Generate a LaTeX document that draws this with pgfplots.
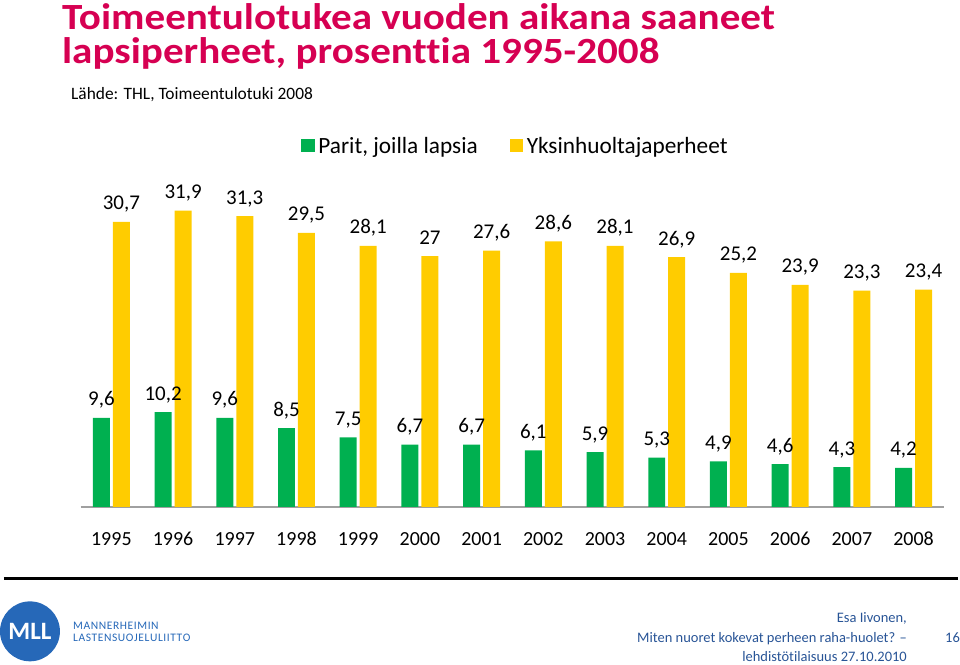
\documentclass[border=0pt]{standalone}
\usepackage{fontspec}
\setmainfont{Carlito}[Ligatures=NoCommon]
\usepackage{pgfplots}
\pgfplotsset{compat=1.18}
\definecolor{titlered}{RGB}{214,0,82}
\definecolor{bargreen}{RGB}{0,176,80}
\definecolor{baryellow}{RGB}{255,204,0}
\definecolor{footblue}{RGB}{40,84,150}
\definecolor{logoblue}{RGB}{38,104,184}
\definecolor{axisgray}{RGB}{160,160,160}

\pgfplotstableread{
x green yellow
0 9.6 30.7
1 10.2 31.9
2 9.6 31.3
3 8.5 29.5
4 7.5 28.1
5 6.7 27
6 6.7 27.6
7 6.1 28.6
8 5.9 28.1
9 5.3 26.9
10 4.9 25.2
11 4.6 23.9
12 4.3 23.3
13 4.2 23.4
}\datatable

\newcommand{\lsp}{\kern0.6pt}

\begin{document}
\begin{tikzpicture}[x=1pt,y=1pt]
\path (0,0) rectangle (960,665);
% title
\node[anchor=base west, inner sep=0, text=titlered, font=\fontsize{37pt}{37pt}\selectfont\bfseries] at (61,635.5) {\scalebox{1.112}[1]{Toimeentulotukea vuoden aikana saaneet}};
\node[anchor=base west, inner sep=0, text=titlered, font=\fontsize{37pt}{37pt}\selectfont\bfseries] at (61,601.5) {\scalebox{1.112}[1]{lapsiperheet, prosenttia 1995-2008}};
\node[anchor=base west, inner sep=0, font=\fontsize{17.4pt}{17.4pt}\selectfont] at (70,565) {Lähde: THL, Toimeentulotuki 2008};

\begin{axis}[
  at={(79.6pt,157.5pt)}, anchor=south west,
  scale only axis, width=864.8pt, height=372pt,
  xmin=-0.5, xmax=13.5, ymin=0, ymax=40,
  ybar=3pt, bar width=17pt,
  axis y line=none,
  axis x line*=bottom,
  axis line style={draw=axisgray, line width=1.5pt},
  xtick={0,...,13},
  xticklabels={1995,1996,1997,1998,1999,2000,2001,2002,2003,2004,2005,2006,2007,2008},
  major tick length=0pt,
  xticklabel style={anchor=base, yshift=-39pt, font=\fontsize{20pt}{20pt}\selectfont},
  nodes near coords,
  every node near coord/.append style={font=\fontsize{21pt}{21pt}\selectfont, anchor=base, yshift=12pt, inner sep=0pt},
  legend columns=2,
  legend style={draw=none, fill=none, at={(0.5035,0.972)}, anchor=center,
    font=\fontsize{23.3pt}{23.3pt}\selectfont,
    /tikz/every even column/.append style={column sep=30pt}},
  legend image code/.code={\fill[#1] (0pt,-6.5pt) rectangle (13.5pt,6.5pt); \path (15pt,0pt);},
  /pgf/number format/use comma,
  /pgf/number format/fixed,
  /pgf/number format/precision=1,
  /pgf/number format/assume math mode=true,
]
\addplot[fill=bargreen, draw=none] table[x=x, y=green] {\datatable};
\addplot[fill=baryellow, draw=none] table[x=x, y=yellow] {\datatable};
\legend{{Parit, joilla lapsia}, {Yksinhuoltajaperheet}}
\end{axis}

% footer
\draw[black, line width=2.5pt] (3,86) -- (958,86);
\fill[logoblue] (29,33) circle (30);
\node[text=white, font=\fontsize{25pt}{25pt}\selectfont\bfseries, inner sep=0] at (29,33) {MLL};
\node[anchor=base west, inner sep=0, text=logoblue, font=\fontsize{11.5pt}{11.5pt}\selectfont] at (72,35) {M\lsp A\lsp N\lsp N\lsp E\lsp R\lsp H\lsp E\lsp I\lsp M\lsp I\lsp N};
\node[anchor=base west, inner sep=0, text=logoblue, font=\fontsize{11.5pt}{11.5pt}\selectfont] at (72,23) {L\lsp A\lsp S\lsp T\lsp E\lsp N\lsp S\lsp U\lsp O\lsp J\lsp E\lsp L\lsp U\lsp L\lsp I\lsp I\lsp T\lsp T\lsp O};
\node[anchor=base east, inner sep=0, text=footblue, font=\fontsize{14.5pt}{14.5pt}\selectfont] at (907,42) {Esa Iivonen,};
\node[anchor=base east, inner sep=0, text=footblue, font=\fontsize{14.5pt}{14.5pt}\selectfont] at (907,22) {Miten nuoret kokevat perheen raha-huolet? –};
\node[anchor=base east, inner sep=0, text=footblue, font=\fontsize{14.5pt}{14.5pt}\selectfont] at (907,2.5) {lehdistötilaisuus 27.10.2010};
\node[anchor=base west, inner sep=0, text=footblue, font=\fontsize{14.5pt}{14.5pt}\selectfont] at (945,22) {16};
\end{tikzpicture}
\end{document}
